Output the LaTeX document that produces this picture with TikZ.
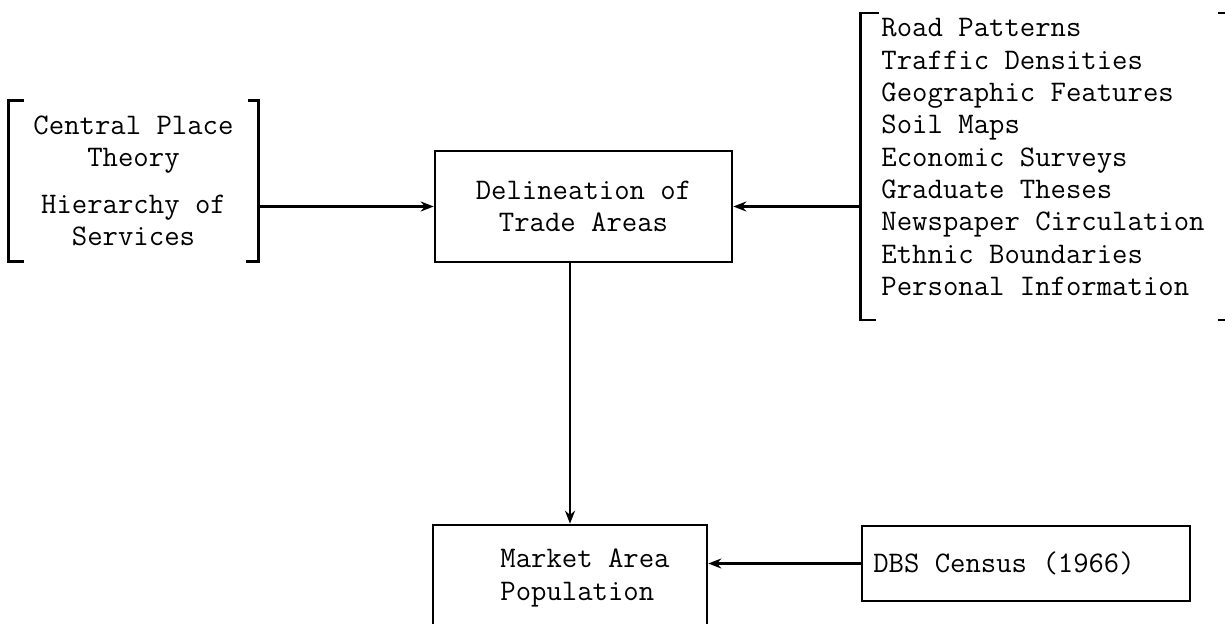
\documentclass[tikz,border=0pt]{standalone}
\usepackage{fontspec}
\usepackage{tikz}
\usetikzlibrary{arrows.meta}

\begin{document}
\begin{tikzpicture}[>={Stealth[length=2.6mm, width=2mm]}, line width=1.5pt,
    font=\ttfamily\fontsize{17}{18.4}\selectfont,
    box/.style={rectangle, draw, align=center, inner sep=0pt},
    list/.style={rectangle, align=left, inner sep=0pt}]

    \useasboundingbox (0,0) rectangle (24.5,-12.48);
    \clip (0,0) rectangle (24.5,-12.48);

    % Inputs and boxes
    \node[list, align=center, minimum width=4.94cm, minimum height=3.16cm] (cpt) at (2.67,-3.62) {Central Place\\Theory\\[8pt]Hierarchy of\\Services};
    \node[box, minimum width=5.94cm, minimum height=2.22cm] (dta) at (11.67,-4.13) {Delineation of\\Trade Areas};
    \node[list, minimum width=7.24cm] (src) at (20.86,-3.14) {Road Patterns\\Traffic Densities\\Geographic Features\\Soil Maps\\Economic Surveys\\Graduate Theses\\Newspaper Circulation\\Ethnic Boundaries\\Personal Information};
    \node[box, align=left, minimum width=5.48cm, minimum height=2.12cm] (map) at (11.40,-11.56) {\hspace*{0.6cm}Market Area\\\hspace*{0.6cm}Population};
    \node[box, minimum width=6.56cm, minimum height=1.5cm] (dbs) at (20.52,-11.27) {DBS Census (1966)\hspace*{0.88cm}};

    % Brackets
    \draw ([xshift=0.3cm]cpt.north west) -- (cpt.north west) -- (cpt.south west) -- ([xshift=0.3cm]cpt.south west);
    \draw ([xshift=-0.2cm]cpt.north east) -- (cpt.north east) -- (cpt.south east) -- ([xshift=-0.25cm]cpt.south east);
    \draw ([xshift=0.36cm, yshift=0.08cm]src.north west) -- ([yshift=0.08cm]src.north west) -- ([yshift=-0.46cm]src.south west) -- ([xshift=0.3cm, yshift=-0.46cm]src.south west);
    \draw ([xshift=-0.14cm, yshift=0.08cm]src.north east) -- ([yshift=0.08cm]src.north east);
    \draw ([xshift=-0.14cm, yshift=-0.46cm]src.south east) -- ([yshift=-0.46cm]src.south east);

    % Draw connections
    \draw[->] (cpt.east |- dta.west) -- (dta.west);
    \draw[->] (src.west |- dta.east) -- (dta.east);
    \draw[->] (map.north |- dta.south) -- (map.north);
    \draw[->] (dbs.west) -- (map.east |- dbs.west);

\end{tikzpicture}
\end{document}
